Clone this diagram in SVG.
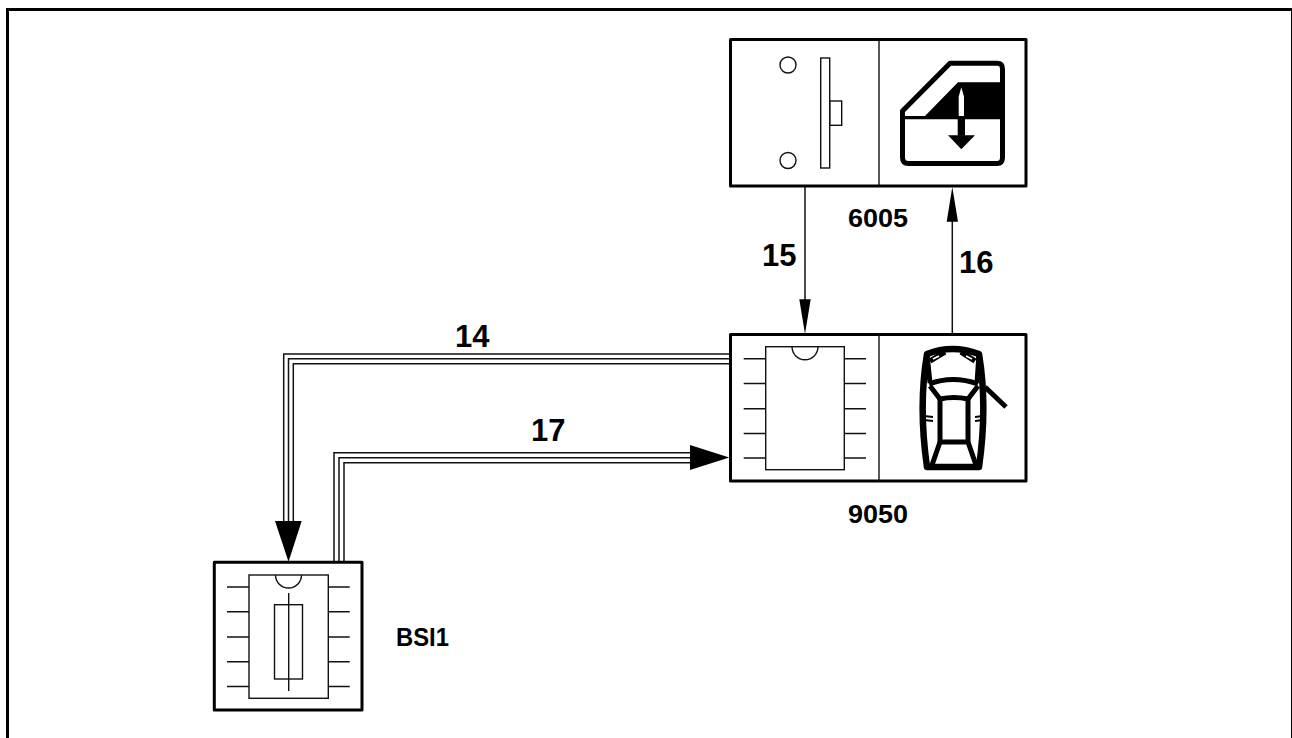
<svg xmlns="http://www.w3.org/2000/svg" width="1292" height="738" viewBox="0 0 1292 738">
<style>
.box{fill:#fff;stroke:#000;stroke-width:3;stroke-linejoin:round}
.thin{fill:none;stroke:#111;stroke-width:1.4}
.wire{fill:none;stroke:#111;stroke-width:1.5}
.ic{fill:none;stroke:#000;stroke-width:5;stroke-linejoin:round}
.ic2{fill:none;stroke:#000;stroke-width:1.8}
text{font-family:"Liberation Sans",Arial,sans-serif;font-weight:bold;fill:#000}
.n{font-size:31px}
.l{font-size:25px}
</style>
<rect width="1292" height="738" fill="#fff"/>
<path d="M7.500 738V9.500H1292" fill="none" stroke="#000" stroke-width="3"/>
<path d="M1292 9.500V738" fill="none" stroke="#000" stroke-width="2"/>
<g id="connectors">
<path class="wire" d="M805 186V305"/>
<path d="M805 334L799.300 299.300H810.700Z" fill="#000"/>
<path class="wire" d="M952.300 334V215"/>
<path d="M952.300 187L946.700 221.700H958Z" fill="#000"/>
<path class="wire" d="M730 354H283.700V525M730 358.800H288.500V525M730 363.700H293.300V525"/>
<path d="M288.500 561.700L275 521H301.700Z" fill="#000"/>
<path class="wire" d="M334 562V452.700H695M339 562V457.700H695M344 562V462.700H695"/>
<path d="M729.300 457.500L690 445V470Z" fill="#000"/>
</g>
<g id="node-6005">
<rect class="box" x="730.500" y="39.500" width="295.500" height="146.500"/>
<path class="thin" d="M879 39.500V186"/>
<circle class="thin" cx="788" cy="65" r="8"/>
<circle class="thin" cx="788" cy="160.500" r="8"/>
<rect class="thin" x="820.700" y="58" width="9" height="110"/>
<rect class="thin" x="829.700" y="101" width="12" height="24.300"/>
<path d="M904 116H925L958 82.300H1003V119.300H904Z" fill="#000"/>
<path d="M902.500 111L950 63.200H997Q1002.500 63.200 1002.500 69V157.500Q1002.500 163.500 997 163.500H908.500Q902.500 163.500 902.500 157.500Z" class="ic"/>
<path d="M961.300 87.300L958.700 96.700V116H964V96.700Z" fill="#fff"/>
<path d="M957.700 116H965V135.300H975L961.300 149.300L948 135.300H957.700Z" fill="#000"/>
</g>
<g id="node-9050">
<rect class="box" x="730.500" y="334.500" width="295.500" height="146.500"/>
<path class="thin" d="M879 334.500V481"/>
<rect class="thin" x="765.700" y="346.700" width="78.600" height="123"/>
<path class="thin" d="M792 346.700A13 13 0 0 0 818 346.700"/>
<path class="thin" d="M743.700 358.700H765.700M743.700 383.500H765.700M743.700 408.700H765.700M743.700 433.500H765.700M743.700 458H765.700M844.300 358.700H866M844.300 383.500H866M844.300 408.700H866M844.300 433.500H866M844.300 458H866"/>
<path d="M927 467C921 425 921 390 927 354Q952 344 979 354C985 390 985 425 979 467Z" fill="none" stroke="#000" stroke-width="6.500" stroke-linejoin="round"/>
<path d="M927 354L930 383M979 354L977 383" stroke="#000" stroke-width="5" fill="none"/>
<path class="ic" d="M929 384Q953 375 978 384"/>
<path class="ic" d="M930 386L940 399M978 386L968 399"/>
<path class="ic" d="M940 442V399Q954 396 968 399V442Z"/>
<path class="ic" d="M940 442L932 465M968 442L976 465"/>
<path class="ic2" d="M924 416L933 417M924 420L933 421M983 416L975 417M983 420L975 421"/>
<path class="ic" d="M985 387L1006 407"/>
<path d="M930 361L945 352M975 361L961 352" stroke="#000" stroke-width="5.500" fill="none"/>
<path d="M933 359L939 356M972 359L966 356" stroke="#fff" stroke-width="1.800" fill="none"/>
</g>
<g id="node-bsi1">
<rect class="box" x="214.300" y="562.300" width="147.700" height="147.700"/>
<rect class="thin" x="249" y="575" width="79.300" height="123.300"/>
<path class="thin" d="M275.500 575A13 13 0 0 0 301.500 575"/>
<path class="thin" d="M227 587H249M227 611.700H249M227 637H249M227 661.700H249M227 686.500H249M328.300 587H349.700M328.300 611.700H349.700M328.300 637H349.700M328.300 661.700H349.700M328.300 686.500H349.700"/>
<rect class="thin" x="274.500" y="604.700" width="28" height="74.300"/>
<path class="thin" d="M288.700 593V691"/>
</g>
<g id="labels">
<text class="n" x="455" y="347">14</text>
<text class="n" x="531" y="441">17</text>
<text class="n" x="762" y="266">15</text>
<text class="n" x="959" y="273">16</text>
<text class="l" x="848" y="227" textLength="60" lengthAdjust="spacingAndGlyphs">6005</text>
<text class="l" x="848" y="523" textLength="60" lengthAdjust="spacingAndGlyphs">9050</text>
<text class="l" x="396" y="646" textLength="53" lengthAdjust="spacingAndGlyphs">BSI1</text>
</g>
</svg>
